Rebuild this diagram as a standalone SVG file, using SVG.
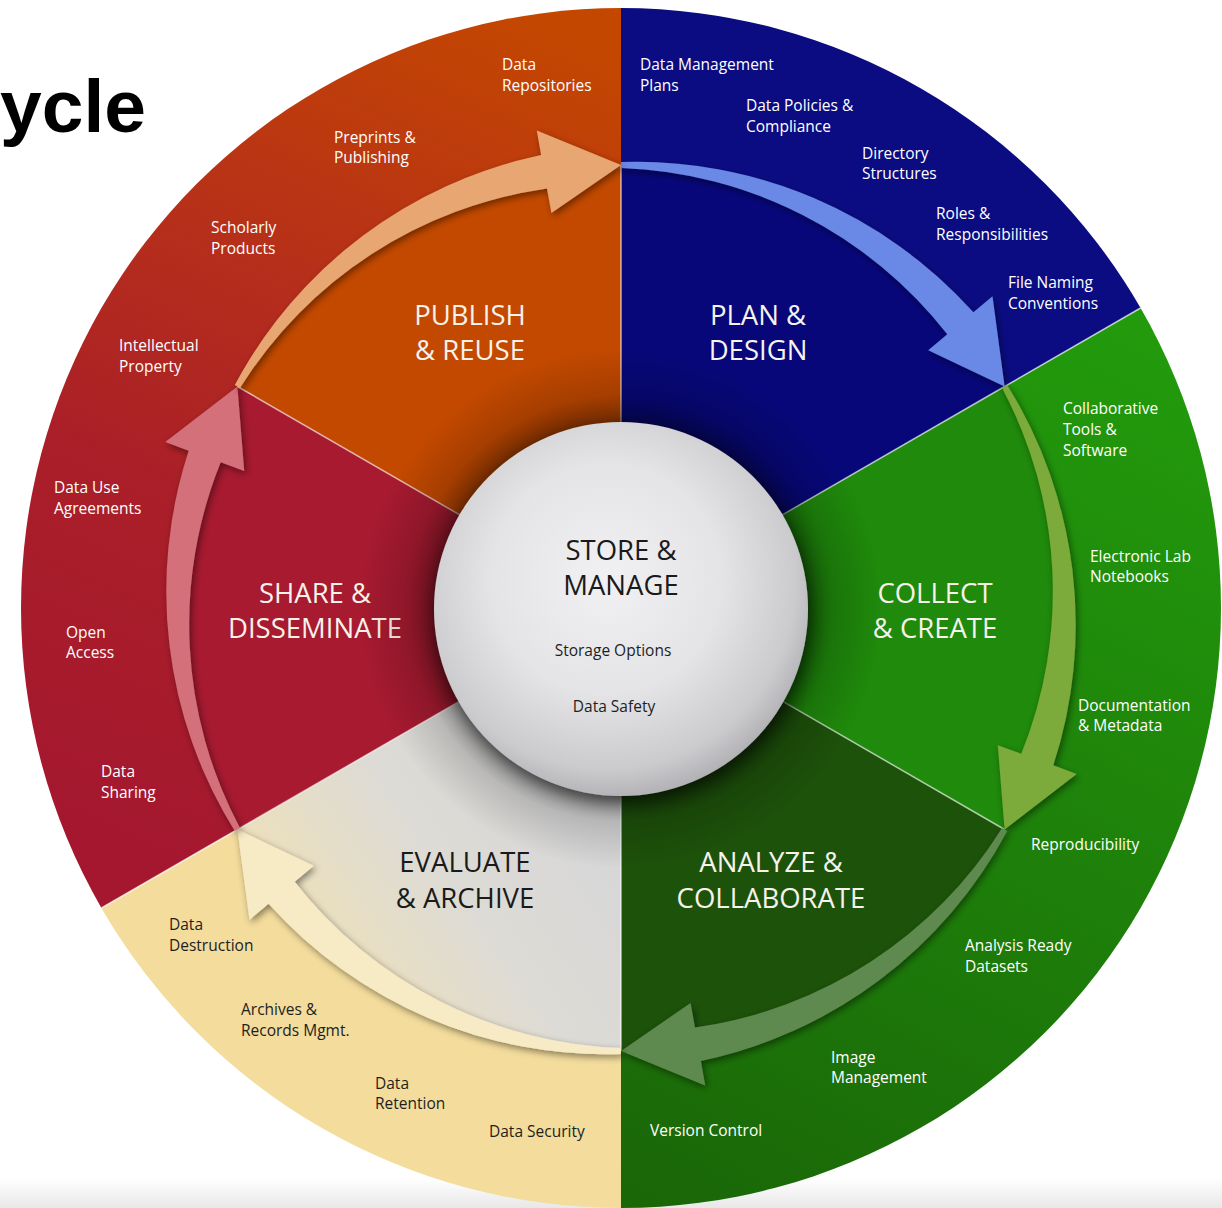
<svg xmlns="http://www.w3.org/2000/svg" width="1222" height="1208" viewBox="0 0 1222 1208">
<style>
.lbl{font-family:"Open Sans","Noto Sans","Liberation Sans",sans-serif;font-size:15.5px;fill:#ffffff}
.dark{fill:#1e1e1e}
.big{font-family:"Open Sans","Noto Sans","Liberation Sans",sans-serif;font-size:27.5px;text-anchor:middle;fill:#f7f2ea}
.bigdark{fill:#1a1a1a}
.mid{font-family:"Open Sans","Noto Sans","Liberation Sans",sans-serif;font-size:15.5px;text-anchor:middle;fill:#1e1e1e}
.arrow{filter:url(#arrowShadow)}
.div{stroke:#ffffff;stroke-opacity:0.65;stroke-width:1.5;fill:none}
</style>
<defs>
<linearGradient id="redRing" gradientUnits="userSpaceOnUse" x1="180" y1="880" x2="560" y2="30">
<stop offset="0" stop-color="#a4172f"/>
<stop offset="0.38" stop-color="#aa1f28"/>
<stop offset="0.62" stop-color="#b52d1c"/>
<stop offset="1" stop-color="#c44700"/>
</linearGradient>
<linearGradient id="greenRing" gradientUnits="userSpaceOnUse" x1="1120" y1="330" x2="660" y2="1200">
<stop offset="0" stop-color="#229a0c"/>
<stop offset="1" stop-color="#1a6708"/>
</linearGradient>
<linearGradient id="evalGrad" gradientUnits="userSpaceOnUse" x1="580" y1="760" x2="290" y2="960">
<stop offset="0" stop-color="#d6d6d8"/>
<stop offset="0.5" stop-color="#dddbd5"/>
<stop offset="1" stop-color="#efe0b6"/>
</linearGradient>
<linearGradient id="floor" x1="0" y1="0" x2="0" y2="1">
<stop offset="0" stop-color="#ffffff"/>
<stop offset="1" stop-color="#e8e8e8"/>
</linearGradient>
<radialGradient id="sphere" cx="0.46" cy="0.42" r="0.62">
<stop offset="0" stop-color="#f1f1f3"/>
<stop offset="0.5" stop-color="#e4e4e6"/>
<stop offset="0.82" stop-color="#cbcbce"/>
<stop offset="1" stop-color="#a8a8ac"/>
</radialGradient>
<radialGradient id="ringShade" cx="0.5" cy="0.5" r="0.5">
<stop offset="0.7" stop-color="#000000" stop-opacity="0.45"/>
<stop offset="0.82" stop-color="#000000" stop-opacity="0.15"/>
<stop offset="1" stop-color="#000000" stop-opacity="0"/>
</radialGradient>
<filter id="arrowShadow" x="-20%" y="-20%" width="140%" height="140%">
<feDropShadow dx="2" dy="3" stdDeviation="3.5" flood-color="#000000" flood-opacity="0.45"/>
</filter>
<filter id="sphereShadow" x="-20%" y="-20%" width="140%" height="140%">
<feDropShadow dx="2" dy="6" stdDeviation="8" flood-color="#000000" flood-opacity="0.55"/>
</filter>
</defs>

<rect x="0" y="0" width="1222" height="1208" fill="#ffffff"/>
<rect x="0" y="1178" width="1222" height="30" fill="url(#floor)"/>

<text x="0" y="132" font-family="Liberation Sans, Arial, sans-serif" font-weight="bold" font-size="75" fill="#000000">ycle</text>

<g id="outer-ring">
<path d="M621,608 L101.4,908 A600,600 0 0 1 621,8 Z" fill="url(#redRing)"/>
<path d="M621,608 L621,8 A600,600 0 0 1 1140.6,308 Z" fill="#0b0c82"/>
<path d="M621,608 L1140.6,308 A600,600 0 0 1 621,1208 Z" fill="url(#greenRing)"/>
<path d="M621,608 L621,1208 A600,600 0 0 1 101.4,908 Z" fill="#f3dc9c"/>
</g>

<g id="publish-reuse">
<path d="M621,608 L237.4,386.5 A443,443 0 0 1 621,165 Z" fill="#c34900"/>
<text class="big" x="470" y="325">PUBLISH</text>
<text class="big" x="470" y="360">&amp; REUSE</text>
<text class="lbl" x="502" y="70">Data</text>
<text class="lbl" x="502" y="91">Repositories</text>
<text class="lbl" x="334" y="143">Preprints &amp;</text>
<text class="lbl" x="334" y="163">Publishing</text>
<text class="lbl" x="211" y="233">Scholarly</text>
<text class="lbl" x="211" y="254">Products</text>
<text class="lbl" x="119" y="351">Intellectual</text>
<text class="lbl" x="119" y="372">Property</text>
</g>

<g id="plan-design">
<path d="M621,608 L621,165 A443,443 0 0 1 1004.6,386.5 Z" fill="#07077a"/>
<text class="big" x="758" y="325">PLAN &amp;</text>
<text class="big" x="758" y="360">DESIGN</text>
<text class="lbl" x="640" y="70">Data Management</text>
<text class="lbl" x="640" y="91">Plans</text>
<text class="lbl" x="746" y="111">Data Policies &amp;</text>
<text class="lbl" x="746" y="132">Compliance</text>
<text class="lbl" x="862" y="159">Directory</text>
<text class="lbl" x="862" y="179">Structures</text>
<text class="lbl" x="936" y="219">Roles &amp;</text>
<text class="lbl" x="936" y="240">Responsibilities</text>
<text class="lbl" x="1008" y="288">File Naming</text>
<text class="lbl" x="1008" y="309">Conventions</text>
</g>

<g id="collect-create">
<path d="M621,608 L1004.6,386.5 A443,443 0 0 1 1004.6,829.5 Z" fill="#1f8a0b"/>
<text class="big" x="935" y="603">COLLECT</text>
<text class="big" x="935" y="638">&amp; CREATE</text>
<text class="lbl" x="1063" y="414">Collaborative</text>
<text class="lbl" x="1063" y="435">Tools &amp;</text>
<text class="lbl" x="1063" y="456">Software</text>
<text class="lbl" x="1090" y="562">Electronic Lab</text>
<text class="lbl" x="1090" y="582">Notebooks</text>
<text class="lbl" x="1078" y="711">Documentation</text>
<text class="lbl" x="1078" y="731">&amp; Metadata</text>
</g>

<g id="analyze-collaborate">
<path d="M621,608 L1004.6,829.5 A443,443 0 0 1 621,1051 Z" fill="#1d520a"/>
<text class="big" x="771" y="872">ANALYZE &amp;</text>
<text class="big" x="771" y="908">COLLABORATE</text>
<text class="lbl" x="1031" y="850">Reproducibility</text>
<text class="lbl" x="965" y="951">Analysis Ready</text>
<text class="lbl" x="965" y="972">Datasets</text>
<text class="lbl" x="831" y="1063">Image</text>
<text class="lbl" x="831" y="1083">Management</text>
<text class="lbl" x="650" y="1136">Version Control</text>
</g>

<g id="evaluate-archive">
<path d="M621,608 L621,1051 A443,443 0 0 1 237.4,829.5 Z" fill="url(#evalGrad)"/>
<text class="big bigdark" x="465" y="872">EVALUATE</text>
<text class="big bigdark" x="465" y="908">&amp; ARCHIVE</text>
<text class="lbl dark" x="169" y="930">Data</text>
<text class="lbl dark" x="169" y="951">Destruction</text>
<text class="lbl dark" x="241" y="1015">Archives &amp;</text>
<text class="lbl dark" x="241" y="1036">Records Mgmt.</text>
<text class="lbl dark" x="375" y="1089">Data</text>
<text class="lbl dark" x="375" y="1109">Retention</text>
<text class="lbl dark" x="489" y="1137">Data Security</text>
</g>

<g id="share-disseminate">
<path d="M621,608 L237.4,829.5 A443,443 0 0 1 237.4,386.5 Z" fill="#a71a30"/>
<text class="big" x="315" y="603">SHARE &amp;</text>
<text class="big" x="315" y="638">DISSEMINATE</text>
<text class="lbl" x="54" y="493">Data Use</text>
<text class="lbl" x="54" y="514">Agreements</text>
<text class="lbl" x="66" y="638">Open</text>
<text class="lbl" x="66" y="658">Access</text>
<text class="lbl" x="101" y="777">Data</text>
<text class="lbl" x="101" y="798">Sharing</text>
</g>

<g id="dividers">
<line class="div" x1="621" y1="608" x2="621" y2="165"/>
<line class="div" x1="621" y1="608" x2="1004.6" y2="386.5"/>
<line class="div" x1="621" y1="608" x2="1004.6" y2="829.5"/>
<line class="div" x1="621" y1="608" x2="621" y2="1051"/>
<line class="div" x1="621" y1="608" x2="237.4" y2="829.5"/>
<line class="div" x1="621" y1="608" x2="237.4" y2="386.5"/>
<line class="div" x1="1004.6" y1="386.5" x2="1140.6" y2="308"/>
<line class="div" x1="237.4" y1="829.5" x2="101.4" y2="908" stroke-opacity="0.3"/>
</g>

<circle cx="621" cy="608" r="260" fill="url(#ringShade)"/>

<g id="connectors">
<path class="arrow" fill="#6b88e6" d="M621,162 A453,453 0 0 1 973.4,312.3 L992.5,296.3 L1004.6,386.5 L928.2,350.2 L947.3,334.2 A433,433 0 0 0 621,168 Z"/>
<path class="arrow" fill="#7bab3b" d="M1007.2,385 A453,453 0 0 1 1053.3,765.3 L1076.7,773.9 L1004.6,829.5 L997.8,745.2 L1021.3,753.7 A433,433 0 0 0 1002.1,388 Z"/>
<path class="arrow" fill="#5f8a50" d="M1007.2,831 A453,453 0 0 1 700.9,1061 L705.2,1085.6 L621,1051 L690.6,1002.9 L695,1027.5 A433,433 0 0 0 1002.1,828 Z"/>
<path class="arrow" fill="#f7ebc6" d="M621,1054 A453,453 0 0 1 268.6,903.7 L249.5,919.8 L237.4,829.5 L313.8,865.8 L294.7,881.8 A433,433 0 0 0 621,1048 Z"/>
<path class="arrow" fill="#d4707a" d="M234.8,831 A453,453 0 0 1 188.7,450.7 L165.3,442.1 L237.4,386.5 L244.2,470.9 L220.7,462.3 A433,433 0 0 0 240,828 Z"/>
<path class="arrow" fill="#e8a672" d="M234.8,385 A453,453 0 0 1 541.1,155 L536.8,130.4 L621,165 L551.4,213.1 L547,188.5 A433,433 0 0 0 240,388 Z"/>
</g>

<g id="store-manage">
<circle cx="621" cy="609" r="187" fill="url(#sphere)" filter="url(#sphereShadow)"/>
<text class="big bigdark" x="621" y="560">STORE &amp;</text>
<text class="big bigdark" x="621" y="595">MANAGE</text>
<text class="mid" x="613" y="656">Storage Options</text>
<text class="mid" x="614" y="712">Data Safety</text>
</g>
</svg>
